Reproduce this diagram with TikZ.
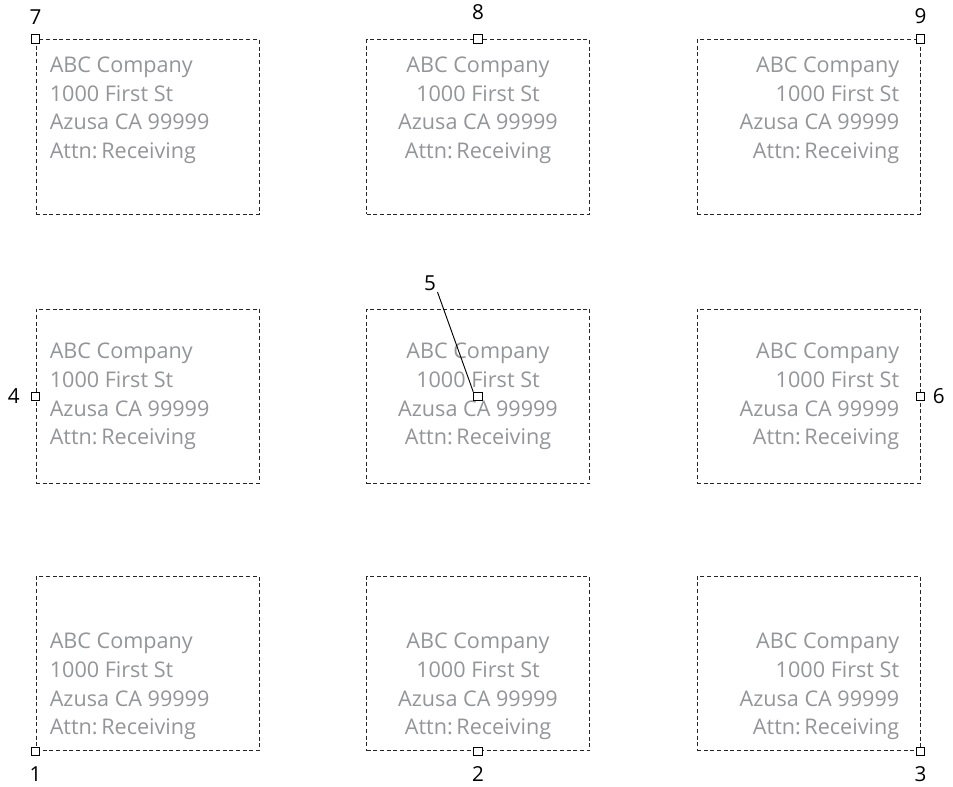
\documentclass[tikz,border=0pt]{standalone}
\usepackage{fontspec}
\setmainfont{Open Sans}
\usetikzlibrary{positioning}
\definecolor{addrgray}{RGB}{147,149,152}
\tikzstyle{labelbox} = [rectangle, draw=black!85, dash pattern=on 3pt off 2pt, line width=0.7pt, minimum width=167.25pt, minimum height=131pt, inner sep=0pt]
\tikzstyle{address} = [text=addrgray, font=\fontsize{16.2}{21.5}\selectfont, inner sep=0pt]
\tikzstyle{handle} = [rectangle, draw=black, fill=white, line width=0.7pt, minimum size=6.5pt, inner sep=0pt]
\tikzstyle{num} = [font=\fontsize{15.5}{18}\selectfont, inner sep=1pt]
\tikzstyle{leader} = [line width=0.7pt]

\begin{document}
\begin{tikzpicture}[x=0.75pt, y=-0.75pt]
    \useasboundingbox (0,0) rectangle (953,787);
    % Boxes
    \node (box7) [labelbox] at (147.5,127) {};
    \node (box8) [labelbox] at (478,127) {};
    \node (box9) [labelbox] at (808.5,127) {};
    \node (box4) [labelbox] at (147.5,396.5) {};
    \node (box5) [labelbox] at (478,396.5) {};
    \node (box6) [labelbox] at (808.5,396.5) {};
    \node (box1) [labelbox] at (147.5,663.5) {};
    \node (box2) [labelbox] at (478,663.5) {};
    \node (box3) [labelbox] at (808.5,663.5) {};

    % Addresses
    \node (addr7) [address, align=left, anchor=north west, below right=13pt and 10.5pt of box7.north west] {ABC Company\\1000 First St\\Azusa CA 99999\\Attn:\,Receiving};
    \node (addr8) [address, align=center, anchor=north, below=13pt of box8.north] {ABC Company\\1000 First St\\Azusa CA 99999\\Attn:\,Receiving};
    \node (addr9) [address, align=right, anchor=north east, below left=13pt and 15.75pt of box9.north east] {ABC Company\\1000 First St\\Azusa CA 99999\\Attn:\,Receiving};
    \node (addr4) [address, align=left, anchor=west, right=10.5pt of box4.west] {ABC Company\\1000 First St\\Azusa CA 99999\\Attn:\,Receiving};
    \node (addr5) [address, align=center, anchor=center] at (box5.center) {ABC Company\\1000 First St\\Azusa CA 99999\\Attn:\,Receiving};
    \node (addr6) [address, align=right, anchor=east, left=15.75pt of box6.east] {ABC Company\\1000 First St\\Azusa CA 99999\\Attn:\,Receiving};
    \node (addr1) [address, align=left, anchor=south west, above right=8.25pt and 10.5pt of box1.south west] {ABC Company\\1000 First St\\Azusa CA 99999\\Attn:\,Receiving};
    \node (addr2) [address, align=center, anchor=south, above=8.25pt of box2.south] {ABC Company\\1000 First St\\Azusa CA 99999\\Attn:\,Receiving};
    \node (addr3) [address, align=right, anchor=south east, above left=8.25pt and 15.75pt of box3.south east] {ABC Company\\1000 First St\\Azusa CA 99999\\Attn:\,Receiving};

    % Handles
    \node (pt7) [handle] at (box7.north west) {};
    \node (pt8) [handle] at (box8.north) {};
    \node (pt9) [handle] at (box9.north east) {};
    \node (pt4) [handle] at (box4.west) {};
    \node (pt5) [handle] at (box5.center) {};
    \node (pt6) [handle] at (box6.east) {};
    \node (pt1) [handle] at (box1.south west) {};
    \node (pt2) [handle] at (box2.south) {};
    \node (pt3) [handle] at (box3.south east) {};

    % Numbers
    \node (n7) [num, above=6.5pt of pt7] {7};
    \node (n8) [num, above=9.5pt of pt8] {8};
    \node (n9) [num, above=6.5pt of pt9] {9};
    \node (n4) [num, left=7pt of pt4] {4};
    \node (n5) [num] at (430,283) {5};
    \node (n6) [num, right=4.5pt of pt6] {6};
    \node (n1) [num, below=6.5pt of pt1] {1};
    \node (n2) [num, below=6.5pt of pt2] {2};
    \node (n3) [num, below=6.5pt of pt3] {3};

    % Leader
    \draw [leader] (n5.south east) -- (pt5.north west);
\end{tikzpicture}
\end{document}
